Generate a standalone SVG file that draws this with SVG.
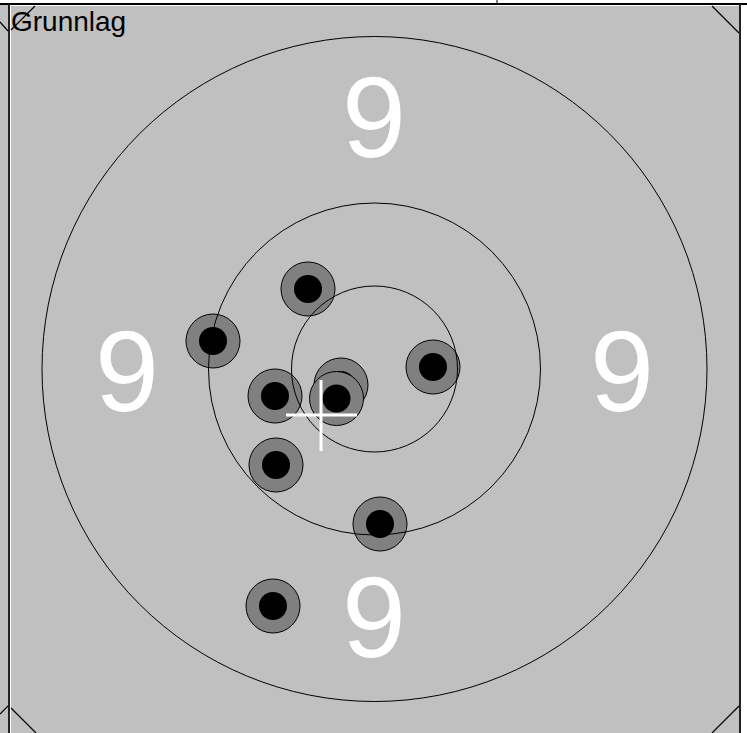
<svg xmlns="http://www.w3.org/2000/svg" width="747" height="733" viewBox="0 0 747 733">
<style>
.ring{fill:none;stroke:#000;stroke-width:1}
.num{font-family:"Liberation Sans",Arial,sans-serif;font-size:115px;fill:#fff;text-anchor:middle}
.shot{fill:#808080;stroke:#000;stroke-width:1}
.core{fill:#000}
.edge{stroke:#000;stroke-width:1.2;fill:none}
</style>
<rect x="0" y="0" width="747" height="733" fill="#fff"/>
<rect x="0" y="5" width="740" height="728" fill="#c0c0c0"/>
<g id="frame">
<line x1="0" y1="4" x2="747" y2="4" stroke="#000" stroke-width="2"/>
<line x1="497" y1="0" x2="497" y2="4" stroke="#000" stroke-width="1"/>
<line x1="9" y1="4" x2="9" y2="733" stroke="#222" stroke-width="2"/>
<line x1="10.5" y1="5" x2="10.5" y2="733" stroke="#fff" stroke-width="1"/>
<line x1="10" y1="5.5" x2="739" y2="5.5" stroke="#fff" stroke-width="1"/>
<line x1="740" y1="4" x2="740" y2="733" stroke="#222" stroke-width="2"/>
<path class="edge" d="M11,30 L35,6 M0,22 L8,31 M712,6 L739,33 M11,708 L36,733 M0,714 L8,706 M712,733 L739,706"/>
</g>
<text x="11" y="31" font-family="Liberation Sans,Arial,sans-serif" font-size="28" fill="#000">Grunnlag</text>
<g id="labels">
<text class="num" x="374" y="157">9</text>
<text class="num" x="127" y="411">9</text>
<text class="num" x="622" y="411">9</text>
<text class="num" x="374" y="657">9</text>
</g>
<g id="shots">
<g id="s1"><circle class="shot" cx="308" cy="289" r="27"/><circle class="core" cx="308" cy="289" r="14"/></g>
<g id="s2"><circle class="shot" cx="213" cy="341" r="27"/><circle class="core" cx="213" cy="341" r="14"/></g>
<g id="s3"><circle class="shot" cx="433" cy="367" r="27"/><circle class="core" cx="433" cy="367" r="14"/></g>
<g id="s4"><circle class="shot" cx="275" cy="396" r="27"/><circle class="core" cx="275" cy="396" r="14"/></g>
<g id="s5"><circle class="shot" cx="341" cy="385" r="27"/><circle class="core" cx="341" cy="385" r="14"/></g>
<g id="s6"><circle class="shot" cx="336.5" cy="398.5" r="27"/><circle class="core" cx="336.5" cy="398.5" r="14"/></g>
<g id="s7"><circle class="shot" cx="276" cy="465" r="27"/><circle class="core" cx="276" cy="465" r="14"/></g>
<g id="s8"><circle class="shot" cx="380" cy="524" r="27"/><circle class="core" cx="380" cy="524" r="14"/></g>
<g id="s9"><circle class="shot" cx="273" cy="606" r="27"/><circle class="core" cx="273" cy="606" r="14"/></g>
</g>
<g id="rings">
<circle class="ring" cx="374.5" cy="369" r="332.5"/>
<circle class="ring" cx="374.5" cy="369" r="166"/>
<circle class="ring" cx="374.5" cy="369" r="83"/>
</g>
<g id="aim" stroke="#fff" stroke-width="3">
<line x1="286" y1="415" x2="357" y2="415"/>
<line x1="321" y1="380" x2="321" y2="451"/>
</g>
</svg>
